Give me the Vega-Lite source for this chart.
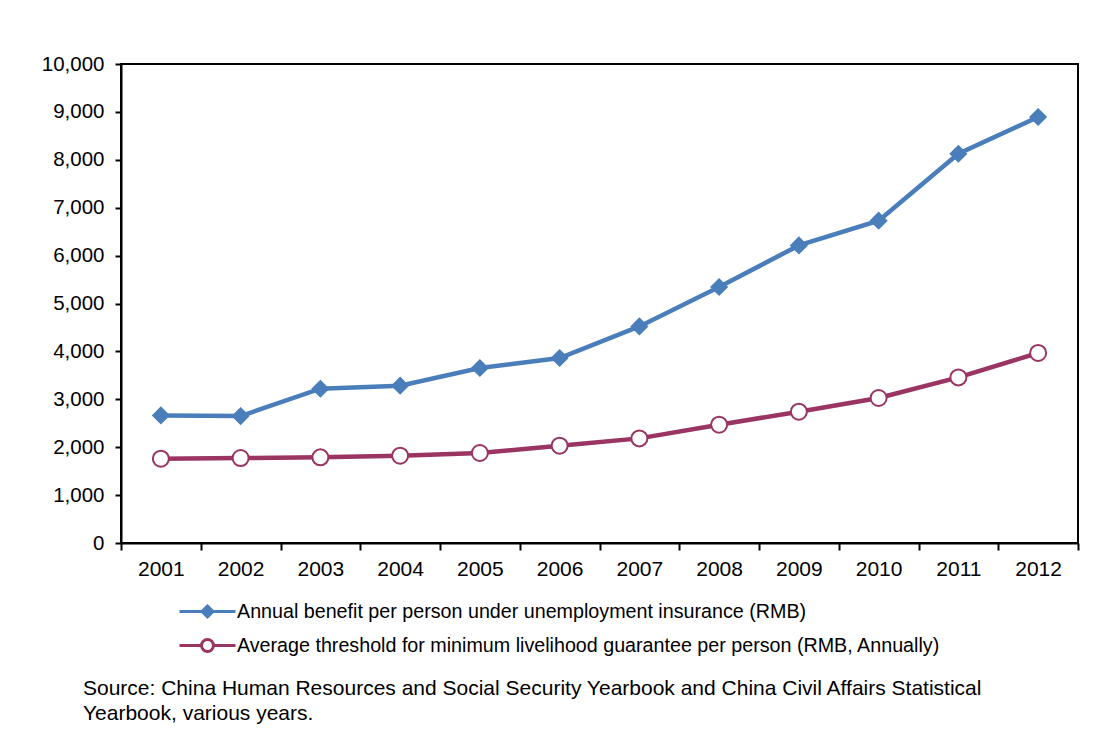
{
  "$schema": "https://vega.github.io/schema/vega-lite/v6.json",
  "width": 957,
  "height": 479,
  "autosize": {"type": "none"},
  "padding": {"left": 121, "top": 64, "right": 32, "bottom": 197},
  "background": "white",
  "config": {
    "font": "Liberation Sans",
    "view": {"stroke": "black", "strokeWidth": 2},
    "axis": {"grid": false, "domainColor": "black", "tickColor": "black", "labelColor": "black", "labelFont": "Liberation Sans"}
  },
  "title": {
    "text": ["Source: China Human Resources and Social Security Yearbook and China Civil Affairs Statistical", "Yearbook, various years."],
    "orient": "bottom",
    "anchor": "start",
    "frame": "group",
    "dx": -38,
    "offset": 20,
    "fontSize": 21,
    "fontWeight": "normal",
    "font": "Liberation Sans",
    "color": "black",
    "lineHeight": 25
  },
  "data": {
    "values": [
      {"year": "2001", "series": "Annual benefit per person under unemployment insurance (RMB)", "value": 2664},
      {"year": "2002", "series": "Annual benefit per person under unemployment insurance (RMB)", "value": 2650},
      {"year": "2003", "series": "Annual benefit per person under unemployment insurance (RMB)", "value": 3221},
      {"year": "2004", "series": "Annual benefit per person under unemployment insurance (RMB)", "value": 3284},
      {"year": "2005", "series": "Annual benefit per person under unemployment insurance (RMB)", "value": 3653},
      {"year": "2006", "series": "Annual benefit per person under unemployment insurance (RMB)", "value": 3862},
      {"year": "2007", "series": "Annual benefit per person under unemployment insurance (RMB)", "value": 4522},
      {"year": "2008", "series": "Annual benefit per person under unemployment insurance (RMB)", "value": 5344},
      {"year": "2009", "series": "Annual benefit per person under unemployment insurance (RMB)", "value": 6213},
      {"year": "2010", "series": "Annual benefit per person under unemployment insurance (RMB)", "value": 6729},
      {"year": "2011", "series": "Annual benefit per person under unemployment insurance (RMB)", "value": 8127},
      {"year": "2012", "series": "Annual benefit per person under unemployment insurance (RMB)", "value": 8894},
      {"year": "2001", "series": "Average threshold for minimum livelihood guarantee per person (RMB, Annually)", "value": 1760},
      {"year": "2002", "series": "Average threshold for minimum livelihood guarantee per person (RMB, Annually)", "value": 1774},
      {"year": "2003", "series": "Average threshold for minimum livelihood guarantee per person (RMB, Annually)", "value": 1788},
      {"year": "2004", "series": "Average threshold for minimum livelihood guarantee per person (RMB, Annually)", "value": 1823},
      {"year": "2005", "series": "Average threshold for minimum livelihood guarantee per person (RMB, Annually)", "value": 1879},
      {"year": "2006", "series": "Average threshold for minimum livelihood guarantee per person (RMB, Annually)", "value": 2031},
      {"year": "2007", "series": "Average threshold for minimum livelihood guarantee per person (RMB, Annually)", "value": 2184},
      {"year": "2008", "series": "Average threshold for minimum livelihood guarantee per person (RMB, Annually)", "value": 2470},
      {"year": "2009", "series": "Average threshold for minimum livelihood guarantee per person (RMB, Annually)", "value": 2741},
      {"year": "2010", "series": "Average threshold for minimum livelihood guarantee per person (RMB, Annually)", "value": 3027},
      {"year": "2011", "series": "Average threshold for minimum livelihood guarantee per person (RMB, Annually)", "value": 3457},
      {"year": "2012", "series": "Average threshold for minimum livelihood guarantee per person (RMB, Annually)", "value": 3967}
    ]
  },
  "encoding": {
    "x": {
      "field": "year", "type": "ordinal",
      "scale": {"type": "band", "paddingInner": 0, "paddingOuter": 0},
      "axis": {"title": null, "labelAngle": 0, "labelFontSize": 21, "labelPadding": 8, "tickSize": 7, "tickWidth": 2, "domainWidth": 2, "tickBand": "extent"}
    },
    "y": {
      "field": "value", "type": "quantitative",
      "scale": {"domain": [0, 10000], "nice": false},
      "axis": {"title": null, "values": [0,1000,2000,3000,4000,5000,6000,7000,8000,9000,10000], "format": ",d", "labelFontSize": 20.5, "labelPadding": 11, "tickSize": 6, "tickWidth": 2, "domainWidth": 2}
    },
    "color": {
      "field": "series", "type": "nominal",
      "scale": {
        "domain": ["Annual benefit per person under unemployment insurance (RMB)", "Average threshold for minimum livelihood guarantee per person (RMB, Annually)"],
        "range": ["#4A7EBB", "#9A3462"]
      }
    }
  },
  "layer": [
    {
      "mark": {"type": "line", "strokeWidth": 4.5},
      "encoding": {
        "color": {
          "field": "series", "type": "nominal",
          "legend": {
            "orient": "none",
            "legendX": 59,
            "legendY": 536,
            "title": null,
            "direction": "vertical",
            "padding": 0,
            "labelFontSize": 19.7,
            "labelColor": "black",
            "labelFont": "Liberation Sans",
            "labelLimit": 900,
            "symbolSize": 400,
            "symbolStrokeWidth": 3,
            "symbolOffset": 16,
            "labelOffset": 18,
            "rowPadding": 10,
            "symbolType": "M-2.8,0H2.8",
            "encode": {
              "symbols": {
                "update": {
                  "shape": {"signal": "datum.value == 'Annual benefit per person under unemployment insurance (RMB)' ? 'M-2.8,0H2.8M0,-0.55L0.55,0L0,0.55L-0.55,0Z' : 'M-2.8,0H-0.6M0.6,0H2.8M0.6,0A0.6,0.6 0 1,1 -0.6,0A0.6,0.6 0 1,1 0.6,0Z'"},
                  "fill": {"signal": "datum.value == 'Annual benefit per person under unemployment insurance (RMB)' ? '#4A7EBB' : 'white'"},
                  "stroke": {"signal": "datum.value == 'Annual benefit per person under unemployment insurance (RMB)' ? '#4A7EBB' : '#9A3462'"},
                  "opacity": {"value": 1},
                  "fillOpacity": {"value": 1}
                }
              }
            }
          }
        }
      }
    },
    {
      "transform": [{"filter": "datum.series == 'Annual benefit per person under unemployment insurance (RMB)'"}],
      "mark": {"type": "point", "shape": "diamond", "filled": true, "size": 330, "opacity": 1, "color": "#4A7EBB"},
      "encoding": {"color": {"value": "#4A7EBB"}}
    },
    {
      "transform": [{"filter": "datum.series == 'Average threshold for minimum livelihood guarantee per person (RMB, Annually)'"}],
      "mark": {"type": "point", "shape": "circle", "filled": true, "size": 256, "opacity": 1, "fill": "white", "stroke": "#9A3462", "strokeWidth": 2},
      "encoding": {"color": {"value": null}}
    }
  ]
}
